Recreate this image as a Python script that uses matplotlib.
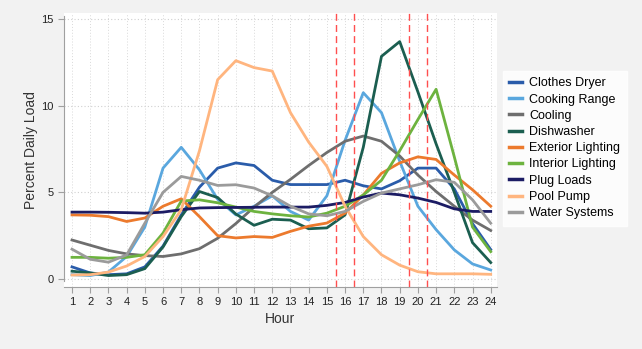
import matplotlib
matplotlib.use("Agg")
import matplotlib.pyplot as plt

plt.rcParams["font.family"] = ["Liberation Sans", "DejaVu Sans"]

# Hourly load shapes (percent of daily load)
hours = list(range(1, 25))

clothes_dryer = [0.7, 0.35, 0.25, 0.3, 0.7, 1.9, 3.7, 5.3, 6.4, 6.7, 6.55, 5.7,
                 5.45, 5.45, 5.45, 5.7, 5.38, 5.2, 5.67, 6.4, 6.4, 5.2, 3.2, 1.7]
cooking_range = [0.25, 0.2, 0.4, 1.3, 3.0, 6.4, 7.6, 6.3, 4.6, 3.7, 4.2, 4.8,
                 3.9, 3.4, 4.8, 8.0, 10.75, 9.6, 6.8, 4.2, 2.85, 1.68, 0.87, 0.52]
cooling = [2.25, 1.95, 1.65, 1.45, 1.35, 1.3, 1.45, 1.75, 2.35, 3.2, 4.15, 5.0,
           5.75, 6.55, 7.3, 7.95, 8.25, 7.95, 7.1, 6.0, 5.05, 4.2, 3.4, 2.8]
dishwasher = [0.45, 0.35, 0.2, 0.25, 0.6, 1.85, 3.6, 5.05, 4.7, 3.75, 3.1, 3.45,
              3.4, 2.9, 2.95, 3.7, 7.6, 12.85, 13.7, 10.8, 7.8, 5.0, 2.1, 0.95]
exterior_lighting = [3.7, 3.68, 3.6, 3.32, 3.52, 4.2, 4.63, 3.6, 2.5, 2.37, 2.45, 2.4,
                     2.75, 3.05, 3.23, 3.8, 4.85, 6.1, 6.7, 7.05, 6.9, 6.0, 5.15, 4.2]
interior_lighting = [1.25, 1.25, 1.2, 1.25, 1.4, 2.65, 4.5, 4.57, 4.4, 4.15, 3.9, 3.76,
                     3.65, 3.58, 3.8, 4.2, 4.85, 5.7, 7.4, 9.2, 10.95, 7.05, 3.0, 1.58]
plug_loads = [3.86, 3.86, 3.85, 3.83, 3.8, 3.86, 4.0, 4.1, 4.12, 4.13, 4.14, 4.15,
              4.15, 4.15, 4.25, 4.42, 4.73, 4.96, 4.86, 4.67, 4.42, 4.05, 3.9, 3.9]
pool_pump = [0.23, 0.25, 0.4, 0.75, 1.3, 2.45, 4.0, 7.4, 11.5, 12.6, 12.2, 12.0,
             9.6, 7.9, 6.5, 4.2, 2.45, 1.4, 0.8, 0.42, 0.3, 0.3, 0.3, 0.27]
water_systems = [1.72, 1.14, 0.97, 1.39, 3.22, 5.0, 5.92, 5.7, 5.4, 5.44, 5.25, 4.8,
                 4.2, 3.76, 3.65, 3.9, 4.48, 4.96, 5.2, 5.44, 5.73, 5.58, 4.57, 3.22]

series = [
    ("Clothes Dryer", clothes_dryer, "#2a5caa"),
    ("Cooking Range", cooking_range, "#5aa7de"),
    ("Cooling", cooling, "#6e6e6e"),
    ("Dishwasher", dishwasher, "#1b5e50"),
    ("Exterior Lighting", exterior_lighting, "#ec7a2d"),
    ("Interior Lighting", interior_lighting, "#6db33f"),
    ("Plug Loads", plug_loads, "#1c1c64"),
    ("Pool Pump", pool_pump, "#ffb57f"),
    ("Water Systems", water_systems, "#9b9b9b"),
]

peak_marks = [15.5, 16.5, 19.5, 20.5]

fig = plt.figure(figsize=(6.42, 3.49), dpi=100, facecolor="#f2f2f2")
ax = fig.add_axes([0.0997, 0.1777, 0.674, 0.786])
ax.set_facecolor("white")

for name, vals, col in series:
    ax.plot(hours, vals, color=col, lw=2, label=name)

for x in peak_marks:
    ax.axvline(x, color="#ff4f4f", lw=1, ls=(0, (5, 3)))

ax.set_xlim(0.56, 24.33)
ax.set_ylim(-0.46, 15.37)
ax.set_xticks(hours)
ax.set_yticks([0, 5, 10, 15])

# dotted grid
for h in hours:
    ax.axvline(h, color="#d9d9d9", lw=0.7, ls=(0, (1, 2)), zorder=0)
for v in [0, 5, 10, 15]:
    ax.axhline(v, color="#d0d0d0", lw=0.8, ls=(0, (1, 2)), zorder=0)

for s in ["top", "right"]:
    ax.spines[s].set_visible(False)
ax.spines["left"].set_color("#a0a0a0")
ax.spines["bottom"].set_color("#a0a0a0")
ax.spines["left"].set_bounds(-0.1, 15.15)
ax.tick_params(axis="both", colors="#a0a0a0", labelcolor="#222222",
               labelsize=8, length=4)

ax.set_xlabel("Hour", fontsize=10, color="#333333", labelpad=3)
ax.set_ylabel("Percent Daily Load", fontsize=10, color="#333333", labelpad=2)

leg = fig.legend(loc="upper left", bbox_to_anchor=(503 / 642, 1 - 71 / 349),
                 borderaxespad=0, frameon=True, fancybox=False, fontsize=9,
                 handlelength=1.0, handletextpad=0.6, labelspacing=0.34,
                 borderpad=0.5)
leg.get_frame().set_facecolor("white")
leg.get_frame().set_edgecolor("white")
for line in leg.get_lines():
    line.set_linewidth(2.5)

fig.savefig("out.png", dpi=100, facecolor=fig.get_facecolor())
